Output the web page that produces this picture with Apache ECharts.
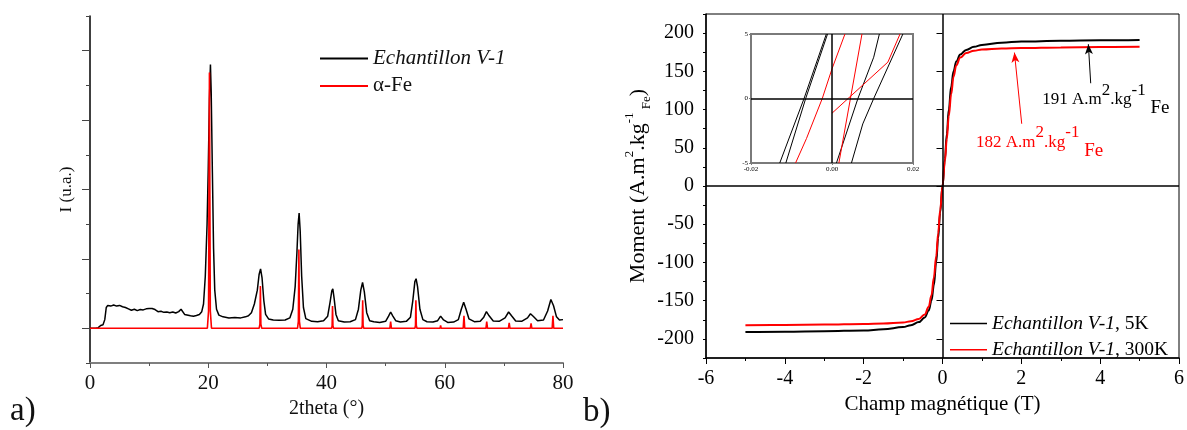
<!DOCTYPE html>
<html><head><meta charset="utf-8">
<script src="https://cdn.jsdelivr.net/npm/echarts@6/dist/echarts.min.js"></script>
<style>html,body{margin:0;padding:0;background:#fff}#c{width:1187px;height:430px}</style>
</head><body><div id="c"></div><script>
// ---------- Panel a : XRD ----------
const sampleXRD = [
[0,0],[1.0,0],[1.4,0.02],[1.8,0.08],[2.2,0.10],[2.5,0.25],[2.75,0.60],[3.0,0.66],[3.5,0.64],[4.0,0.67],[4.5,0.64],[5.0,0.66],
[5.5,0.62],[6.0,0.60],[6.5,0.56],[7.0,0.52],[7.5,0.55],[8.0,0.51],[8.5,0.54],[9.0,0.53],[9.5,0.56],[10.0,0.57],[10.5,0.57],
[11.0,0.54],[11.5,0.48],[12.0,0.49],[12.5,0.46],[13.0,0.47],[13.5,0.45],[14.0,0.47],[14.5,0.44],[15.0,0.48],[15.4,0.55],
[15.7,0.56],[16.0,0.40],[16.3,0.35],[17.0,0.36],[17.5,0.35],[18.0,0.37],[18.5,0.40],[18.9,0.48],[19.2,0.70],[19.5,1.5],
[19.8,3.0],[20.0,4.6],[20.2,6.6],[20.37,7.6],[20.5,6.8],[20.7,4.5],[20.9,2.3],[21.1,1.1],[21.4,0.55],[21.8,0.38],[22.5,0.33],
[23.5,0.30],[24.5,0.31],[25.5,0.30],[26.3,0.33],[26.8,0.36],[27.3,0.45],[27.8,0.70],[28.3,1.10],[28.6,1.55],[28.85,1.71],
[29.1,1.45],[29.4,0.80],[29.7,0.40],[30.2,0.27],[31.0,0.24],[32.0,0.23],[33.0,0.24],[33.8,0.30],[34.3,0.55],[34.7,1.20],
[35.0,2.20],[35.2,3.00],[35.37,3.32],[35.55,2.80],[35.8,1.50],[36.1,0.60],[36.5,0.28],[37.5,0.20],[38.5,0.19],[39.5,0.22],
[40.2,0.35],[40.6,0.75],[40.9,1.08],[41.07,1.14],[41.3,0.85],[41.6,0.40],[42.0,0.22],[43.0,0.18],[44.0,0.19],[44.9,0.25],
[45.4,0.55],[45.8,1.10],[46.1,1.32],[46.4,1.05],[46.8,0.45],[47.3,0.22],[48.0,0.19],[49.0,0.17],[50.0,0.20],[50.5,0.35],
[50.85,0.47],[51.2,0.36],[51.7,0.22],[52.5,0.18],[53.5,0.20],[54.2,0.32],[54.6,0.80],[54.95,1.35],[55.15,1.43],[55.4,1.20],
[55.8,0.55],[56.3,0.25],[57.0,0.19],[58.0,0.18],[58.8,0.22],[59.3,0.35],[59.8,0.24],[60.5,0.17],[61.5,0.18],[62.3,0.25],
[62.8,0.55],[63.2,0.75],[63.6,0.55],[64.1,0.27],[65.0,0.19],[66.0,0.20],[66.6,0.32],[67.05,0.48],[67.5,0.36],[68.2,0.21],
[69.2,0.20],[70.2,0.30],[70.8,0.47],[71.3,0.36],[72.0,0.21],[73.0,0.20],[74.0,0.30],[74.5,0.42],[75.0,0.34],[75.7,0.22],
[76.7,0.24],[77.4,0.50],[77.95,0.83],[78.4,0.65],[78.9,0.33],[79.4,0.24],[80.0,0.25]
];
const alphaFeXRD = [
[0,0],[19.85,0],[20.05,0.5],[20.2,7.37],[20.35,0.5],[20.55,0],
[28.6,0],[28.74,0.12],[28.82,1.22],[28.9,0.12],[29.05,0],
[35.1,0],[35.24,0.2],[35.33,2.27],[35.42,0.2],[35.57,0],
[40.85,0],[40.95,0.07],[41.02,0.64],[41.09,0.07],[41.2,0],
[45.95,0],[46.05,0.08],[46.12,0.81],[46.19,0.08],[46.3,0],
[50.72,0],[50.85,0.19],[50.98,0],
[54.95,0],[55.05,0.08],[55.12,0.81],[55.19,0.08],[55.3,0],
[59.2,0],[59.3,0.08],[59.4,0],
[63.12,0],[63.25,0.36],[63.38,0],
[66.97,0],[67.1,0.19],[67.23,0],
[70.77,0],[70.9,0.16],[71.03,0],
[74.47,0],[74.6,0.14],[74.73,0],
[78.17,0],[78.3,0.36],[78.43,0],[80,0]
];
const yTicksA = ['-1','0','1','2','3','4','5','6','7','8','9'];

// ---------- Panel b : M(H) ----------
const moment5K = [
[-5,-191],[-4,-190.5],[-3,-190],[-2,-189],[-1.5,-187.5],[-1,-184.5],[-0.8,-182],[-0.6,-178],[-0.45,-172],[-0.35,-163],
[-0.28,-150],[-0.22,-130],[-0.16,-100],[-0.11,-68],[-0.06,-35],[0,0],[0.06,35],[0.11,68],[0.16,100],[0.22,130],
[0.28,150],[0.35,163],[0.45,172],[0.6,178],[0.8,182],[1,184.5],[1.5,187.5],[2,189],[3,190],[4,190.5],[5,191]
];
const moment300K = [
[-5,-182],[-4,-181.7],[-3,-181.3],[-2,-180.5],[-1.5,-179.8],[-1,-178.5],[-0.8,-177],[-0.6,-174],[-0.45,-168],[-0.35,-158],
[-0.28,-143],[-0.22,-120],[-0.16,-92],[-0.11,-62],[-0.06,-32],[0,0],[0.06,32],[0.11,62],[0.16,92],[0.22,120],
[0.28,143],[0.35,158],[0.45,168],[0.6,174],[0.8,177],[1,178.5],[1.5,179.8],[2,180.5],[3,181.3],[4,181.7],[5,182]
];
const yTicksB = ['-225','-200','-175','-150','-125','-100','-75','-50','-25','0','25','50','75','100','125','150','175','200','225'];
// inset (zoom around origin)
const insetBlack1 = [[-0.0129,-5],[-0.0069,0],[-0.0014,5]];
const insetBlack2 = [[-0.0114,-5],[-0.0065,0],[-0.0011,5]];
const insetBlack3 = [[0.0011,-5],[0.0064,0],[0.0103,3.2],[0.0117,5]];
const insetBlack4 = [[0.0048,-5],[0.0076,-1.97],[0.0103,0],[0.0175,5]];
const insetRed1 = [[-0.009,-5],[-0.0063,-3.1],[-0.0024,0],[0,2.3],[0.0032,5]];
const insetRed2 = [[0.0017,-5],[0.0074,5]];
const insetRed3 = [[0,-1.14],[0.0138,2.82],[0.0168,5]];

const F = 'Liberation Serif';
const chart = echarts.init(document.getElementById('c'));

function richAnno(color){
  return {
    a:{fontFamily:F,fontSize:17,color:color,lineHeight:36,verticalAlign:'middle'},
    s:{fontFamily:F,fontSize:17,color:color,lineHeight:18,verticalAlign:'top'},
    f:{fontFamily:F,fontSize:19,color:color,lineHeight:30,verticalAlign:'bottom'}
  };
}
const legendRich = {
  i:{fontFamily:F,fontStyle:'italic',fontSize:19.5,color:'#000'},
  n:{fontFamily:F,fontSize:19.5,color:'#000'}
};
const legendRichA = {
  i:{fontFamily:F,fontStyle:'italic',fontSize:21,color:'#111'},
  n:{fontFamily:F,fontSize:21,color:'#111'}
};

const insetLine = (name,data,color)=>({
  name:name, type:'line', xAxisIndex:2, yAxisIndex:4, data:data, symbol:'none',
  lineStyle:{color:color,width:1}, itemStyle:{color:color}, silent:true, clip:true
});

const option = {
  animation:false,
  backgroundColor:'#fff',
  grid:[
    {left:90, top:16, width:473, height:347},
    {left:706, top:14, width:473, height:344, show:true, borderColor:'#000', borderWidth:1},
    {left:751, top:34, width:162, height:129, show:true, borderColor:'#7a7a7a', borderWidth:2}
  ],
  xAxis:[
    {gridIndex:0, type:'value', min:0, max:80, interval:20,
     axisLine:{show:true,onZero:false,lineStyle:{color:'#7f7f7f',width:2}},
     axisTick:{show:true,length:5,lineStyle:{color:'#555'}},
     minorTick:{show:true,splitNumber:2,length:3,lineStyle:{color:'#555'}},
     axisLabel:{fontFamily:F,fontSize:21,color:'#111',margin:10},
     splitLine:{show:false}, minorSplitLine:{show:false},
     name:'2theta (°)', nameLocation:'middle', nameGap:34,
     nameTextStyle:{fontFamily:F,fontSize:20,color:'#111'}},
    {gridIndex:1, type:'value', min:-6, max:6, interval:2,
     axisLine:{show:true,onZero:false,lineStyle:{color:'#000',width:1.5}},
     axisTick:{show:true,length:6,lineStyle:{color:'#000'}},
     minorTick:{show:true,splitNumber:2,length:3,lineStyle:{color:'#000'}},
     axisLabel:{fontFamily:F,fontSize:20,color:'#000',margin:11},
     splitLine:{show:false}, minorSplitLine:{show:false},
     name:'Champ magnétique (T)', nameLocation:'middle', nameGap:36,
     nameTextStyle:{fontFamily:F,fontSize:21,color:'#000'}},
    {gridIndex:2, type:'value', min:-0.02, max:0.02, interval:0.02,
     axisLine:{show:true,onZero:false,lineStyle:{color:'#7a7a7a',width:2}},
     axisTick:{show:true,length:2,lineStyle:{color:'#7a7a7a'}},
     axisLabel:{fontFamily:F,fontSize:7,color:'#000',margin:3,formatter:v=>v.toFixed(2)},
     splitLine:{show:false}}
  ],
  yAxis:[
    {gridIndex:0, type:'value', position:'left', min:-1, max:9, interval:1,
     axisLine:{show:true,onZero:false,lineStyle:{color:'#000',width:1.5}},
     axisTick:{show:true,length:4,lineStyle:{color:'#444'}},
     axisLabel:{show:false}, splitLine:{show:false},
     name:'I (u.a.)', nameLocation:'middle', nameRotate:90, nameGap:15,
     nameTextStyle:{fontFamily:F,fontSize:17,color:'#111'}},
    {gridIndex:0, type:'category', position:'left', data:yTicksA, boundaryGap:false,
     axisLine:{show:false}, axisLabel:{show:false}, splitLine:{show:false},
     axisTick:{show:true,length:8,interval:(i)=>i%2===1,lineStyle:{color:'#444'}}},
    {gridIndex:1, type:'value', position:'left', min:-225, max:225, interval:25,
     axisLine:{show:true,onZero:false,lineStyle:{color:'#000',width:1.5}},
     axisTick:{show:true,length:3,lineStyle:{color:'#000'}},
     axisLabel:{fontFamily:F,fontSize:20,color:'#000',margin:12,
       formatter:v=>(Math.abs(v)<=200 && v%50===0)?String(v):''},
     splitLine:{show:false},
     name:'{m|Moment (A.m}{s|2}{m|.kg}{s|-1}{b| Fe}{m|)}', nameLocation:'middle', nameRotate:90, nameGap:51,
     nameTextStyle:{rich:{
       m:{fontFamily:F,fontSize:22,color:'#000',lineHeight:30,verticalAlign:'middle'},
       s:{fontFamily:F,fontSize:13,color:'#000',lineHeight:13,verticalAlign:'top'},
       b:{fontFamily:F,fontSize:13,color:'#000',lineHeight:13,verticalAlign:'bottom'}}}},
    {gridIndex:1, type:'category', position:'left', data:yTicksB, boundaryGap:false,
     axisLine:{show:false}, axisLabel:{show:false}, splitLine:{show:false},
     axisTick:{show:true,length:6,interval:(i)=>i%2===1,lineStyle:{color:'#000'}}},
    {gridIndex:2, type:'value', position:'left', min:-5, max:5, interval:5,
     axisLine:{show:true,onZero:false,lineStyle:{color:'#7a7a7a',width:2}},
     axisTick:{show:true,length:2,lineStyle:{color:'#7a7a7a'}},
     axisLabel:{fontFamily:F,fontSize:7,color:'#000',margin:3},
     splitLine:{show:false}}
  ],
  legend:[
    {data:['Echantillon V-1','α-Fe'], orient:'vertical', left:320, top:48, padding:0,
     icon:'rect', itemWidth:48, itemHeight:2, itemGap:6.4,
     selectedMode:false, formatter:n=>n==='α-Fe'?'{n|'+n+'}':'{i|'+n+'}', textStyle:{rich:legendRichA}},
    {data:['Echantillon V-1, 5K','Echantillon V-1, 300K'], orient:'vertical', left:950, top:313.5, padding:0,
     icon:'rect', itemWidth:37, itemHeight:1.5, itemGap:6.2,
     selectedMode:false, formatter:n=>'{i|Echantillon V-1}{n|'+n.slice(15)+'}', textStyle:{rich:legendRich}}
  ],
  graphic:[
    {type:'text', left:10, top:395, style:{text:'a)', fontFamily:F, fontSize:33, fill:'#111'}},
    {type:'text', left:583, top:396, style:{text:'b)', fontFamily:F, fontSize:33, fill:'#111'}}
  ],
  series:[
    {name:'Echantillon V-1', type:'line', xAxisIndex:0, yAxisIndex:0, data:sampleXRD, symbol:'none',
     lineStyle:{color:'#000',width:1.5}, itemStyle:{color:'#000'}, silent:true},
    {name:'α-Fe', type:'line', xAxisIndex:0, yAxisIndex:0, data:alphaFeXRD, symbol:'none',
     lineStyle:{color:'#ff0000',width:1.6}, itemStyle:{color:'#ff0000'}, silent:true},
    {name:'Echantillon V-1, 5K', type:'line', xAxisIndex:1, yAxisIndex:2, data:moment5K, symbol:'none',
     smooth:0.4, smoothMonotone:'x',
     lineStyle:{color:'#000',width:2}, itemStyle:{color:'#000'}, silent:true,
     markLine:{silent:true, symbol:['none','none'], label:{show:false}, lineStyle:{color:'#000',width:1.5,type:'solid'},
       emphasis:{disabled:true},
       data:[{yAxis:0},{xAxis:0},
         [{coord:[3.76,134.4],symbol:'none',lineStyle:{width:1,color:'#000'}},{coord:[3.70,185.5],symbol:'arrow',symbolSize:[6,10]}]]},
     markPoint:{silent:true, data:[{coord:[2.53,113], symbol:'circle', symbolSize:0,
       label:{show:true,position:'right',distance:0,formatter:'{a|191 A.m}{s|2}{a|.kg}{s|-1}{f| Fe}',rich:richAnno('#000')}}]}},
    {name:'Echantillon V-1, 300K', type:'line', xAxisIndex:1, yAxisIndex:2, data:moment300K, symbol:'none',
     smooth:0.4, smoothMonotone:'x',
     lineStyle:{color:'#ff0000',width:2}, itemStyle:{color:'#ff0000'}, silent:true,
     markLine:{silent:true, symbol:['none','none'], label:{show:false}, lineStyle:{color:'#ff0000',width:1,type:'solid'},
       emphasis:{disabled:true},
       data:[[{coord:[2.01,81.4],symbol:'none'},{coord:[1.825,174.5],symbol:'arrow',symbolSize:[6,10]}]]},
     markPoint:{silent:true, data:[{coord:[0.85,57.4], symbol:'circle', symbolSize:0,
       label:{show:true,position:'right',distance:0,formatter:'{a|182 A.m}{s|2}{a|.kg}{s|-1}{f| Fe}',rich:richAnno('#ff0000')}}]}},
    Object.assign(insetLine('inset 5K a',insetBlack1,'#000'),{
      markLine:{silent:true,symbol:['none','none'],label:{show:false},lineStyle:{color:'#000',width:1.5,type:'solid'},
        emphasis:{disabled:true}, data:[{yAxis:0},{xAxis:0}]}}),
    insetLine('inset 5K b',insetBlack2,'#000'),
    insetLine('inset 5K c',insetBlack3,'#000'),
    insetLine('inset 5K d',insetBlack4,'#000'),
    insetLine('inset 300K a',insetRed1,'#ff0000'),
    insetLine('inset 300K b',insetRed2,'#ff0000'),
    insetLine('inset 300K c',insetRed3,'#ff0000')
  ]
};
chart.setOption(option);
</script></body></html>
